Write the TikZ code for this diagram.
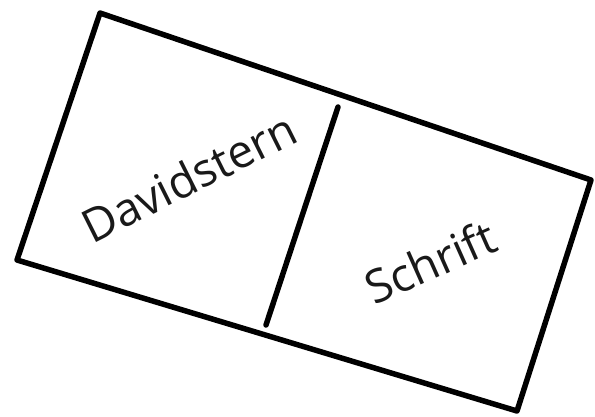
\documentclass[tikz,border=0pt]{standalone}
\usepackage{fontspec}
\setmainfont{Open Sans}
\begin{document}
\begin{tikzpicture}[x=1pt,y=-1pt,
  edge/.style={line width=5.5pt,line join=round,line cap=round},
  lbl/.style={font=\fontsize{46}{52}\selectfont,inner sep=0pt,text=black!90}]
\useasboundingbox (0,0) rectangle (595,416);
\coordinate (tl) at (100,13);
\coordinate (tr) at (591,180);
\coordinate (br) at (517,411);
\coordinate (bl) at (17,260);
\coordinate (dt) at (338,107);
\coordinate (db) at (266,325);
\draw[edge] (tl) -- (tr) -- (br) -- (bl) -- cycle;
\draw[edge] (dt) -- (db);
\node[lbl,rotate=26.5] (d) at (189,177) {Davidstern};
\node[lbl,rotate=24] (s) at (430,262) {Schrift};
\end{tikzpicture}
\end{document}
